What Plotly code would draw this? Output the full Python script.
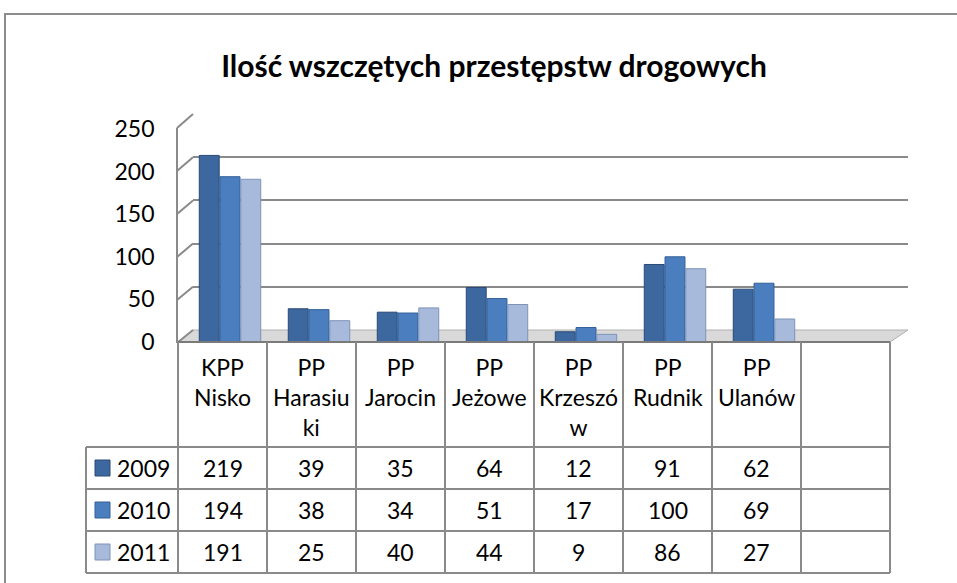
import plotly.graph_objects as go

# ---------------- data ----------------
categories = ["KPP Nisko", "PP Harasiuki", "PP Jarocin", "PP Jeżowe",
              "PP Krzeszów", "PP Rudnik", "PP Ulanów"]
header_labels = ["KPP<br>Nisko", "PP<br>Harasiu<br>ki", "PP<br>Jarocin", "PP<br>Jeżowe",
                 "PP<br>Krzeszó<br>w", "PP<br>Rudnik", "PP<br>Ulanów"]
years = ["2009", "2010", "2011"]
v2009 = [219, 39, 35, 64, 12, 91, 62]
v2010 = [194, 38, 34, 51, 17, 100, 69]
v2011 = [191, 25, 40, 44, 9, 86, 27]
y_ticks = [0, 50, 100, 150, 200, 250]
title_text = "Ilość wszczętych przestępstw drogowych"

colors = ["#3C679F", "#4A7EBF", "#A7BADB"]
edge_colors = ["#2A4A75", "#33609A", "#7D93B8"]
series = [v2009, v2010, v2011]

W, H = 957, 583
def px(x):
    return x / W
def py(y):
    return 1 - y / H

FONT = "Lato"
GRAY = "#8a8a8a"
fig = go.Figure()

# invisible trace that carries the back-wall grid subplot
fig.add_trace(go.Scatter(x=categories, y=v2009, xaxis="x", yaxis="y", mode="markers",
                         marker=dict(opacity=0), hoverinfo="skip", showlegend=False, cliponaxis=True))
# invisible trace that carries the data-table column axis
fig.add_trace(go.Scatter(x=categories, y=v2009, xaxis="x3", yaxis="y3", mode="markers",
                         marker=dict(opacity=0), hoverinfo="skip", showlegend=False, cliponaxis=True))

for yr, vals, col, ec in zip(years, series, colors, edge_colors):
    fig.add_trace(go.Bar(x=categories, y=vals, name=yr, xaxis="x2", yaxis="y2",
                         marker=dict(color=col, line=dict(color=ec, width=1)),
                         showlegend=False))

annotations = []
# table header (category names)
for cat, lab in zip(categories, header_labels):
    annotations.append(dict(xref="x3", yref="paper", x=cat, y=py(351), yanchor="top",
                            xanchor="center", text=lab, showarrow=False, align="center",
                            font=dict(family=FONT, size=23, color="black")))
# table rows
row_centers = [468, 510, 552]
for yr, vals, col, ec, rc in zip(years, series, colors, edge_colors, row_centers):
    for cat, v in zip(categories, vals):
        annotations.append(dict(xref="x3", yref="paper", x=cat, y=py(rc), yanchor="middle",
                                xanchor="center", text=str(v), showarrow=False,
                                font=dict(family=FONT, size=23, color="black")))
    annotations.append(dict(xref="paper", yref="paper", x=px(115), y=py(rc), yanchor="middle",
                            xanchor="left", text=yr, showarrow=False,
                            font=dict(family=FONT, size=23, color="black")))

shapes = []
# outer chart frame
shapes.append(dict(type="rect", xref="paper", yref="paper", x0=px(5), y0=py(620), x1=px(1000), y1=py(14),
                   line=dict(color="#8c8c8c", width=2), fillcolor="rgba(0,0,0,0)", layer="below"))
# floor
floor = (f"M {px(178)},{py(342)} L {px(890)},{py(342)} L {px(908)},{py(330)} "
         f"L {px(193)},{py(330)} Z")
shapes.append(dict(type="path", xref="paper", yref="paper", path=floor,
                   fillcolor="#d9d9d9", line=dict(color="#b0b0b0", width=1), layer="below"))
# side wall
shapes.append(dict(type="line", xref="paper", yref="paper", x0=px(177), y0=py(343), x1=px(177), y1=py(128),
                   line=dict(color=GRAY, width=2), layer="below"))
for v in y_ticks:
    yf = 343 - v * (215 / 250)
    yb = 330 - v * (216 / 250)
    shapes.append(dict(type="line", xref="paper", yref="paper", x0=px(177), y0=py(yf), x1=px(193), y1=py(yb),
                       line=dict(color=GRAY, width=2), layer="below"))
# data table grid
for yy, x0 in [(342, 178), (447, 86), (489, 86), (531, 86), (573, 86)]:
    shapes.append(dict(type="line", xref="paper", yref="paper", x0=px(x0), x1=px(890), y0=py(yy), y1=py(yy),
                       line=dict(color=GRAY if yy != 342 else "#7a7a7a", width=2)))
shapes.append(dict(type="line", xref="paper", yref="paper", x0=px(86), x1=px(86), y0=py(447), y1=py(573),
                   line=dict(color=GRAY, width=2)))
for i in range(len(categories) + 2):
    xx = 178 + 89 * i
    shapes.append(dict(type="line", xref="paper", yref="paper", x0=px(xx), x1=px(xx), y0=py(342), y1=py(573),
                       line=dict(color=GRAY, width=2)))
# legend keys in table
for col, ec, rc in zip(colors, edge_colors, row_centers):
    shapes.append(dict(type="rect", xref="paper", yref="paper", x0=px(95), x1=px(110),
                       y0=py(rc + 8), y1=py(rc - 8), fillcolor=col, line=dict(color=ec, width=1)))

fig.update_layout(
    width=W, height=H, autosize=False,
    margin=dict(l=0, r=0, t=0, b=0, pad=0, autoexpand=False),
    paper_bgcolor="white", plot_bgcolor="rgba(0,0,0,0)",
    barmode="group", bargap=0.3, bargroupgap=0.04,
    title=dict(text=f"<b>{title_text}</b>", x=px(494), xanchor="center", y=py(66), yanchor="middle",
               font=dict(family=FONT, size=30, color="black")),
    xaxis=dict(domain=[px(193), px(908)], anchor="y", range=[-0.5, 7.5], visible=False, automargin=False),
    yaxis=dict(domain=[py(330), py(114)], anchor="x", range=[0, 250], tickvals=y_ticks,
               showgrid=True, gridcolor=GRAY, gridwidth=2, showticklabels=False,
               zeroline=False, showline=False, ticks="", automargin=False),
    xaxis2=dict(domain=[px(185.5), px(897.5)], anchor="y2", range=[-0.5, 7.5], automargin=False,
                showticklabels=False, showgrid=False, zeroline=False, showline=False, ticks=""),
    yaxis2=dict(domain=[py(342), py(129)], anchor="x2", range=[0, 250], tickvals=y_ticks,
                showgrid=False, zeroline=False, showline=False, ticks="", automargin=False,
                ticklabelstandoff=30, tickfont=dict(family=FONT, size=23, color="black")),
    xaxis3=dict(domain=[px(178), px(890)], anchor="y3", range=[-0.5, 7.5], visible=False, automargin=False),
    yaxis3=dict(domain=[py(573), py(342)], anchor="x3", visible=False, automargin=False),
    shapes=shapes,
    annotations=annotations,
    hovermode=False,
)

fig.write_html("out.html", config={"displayModeBar": False},
               post_script="document.body.style.margin='0';document.body.style.overflow='hidden';")
